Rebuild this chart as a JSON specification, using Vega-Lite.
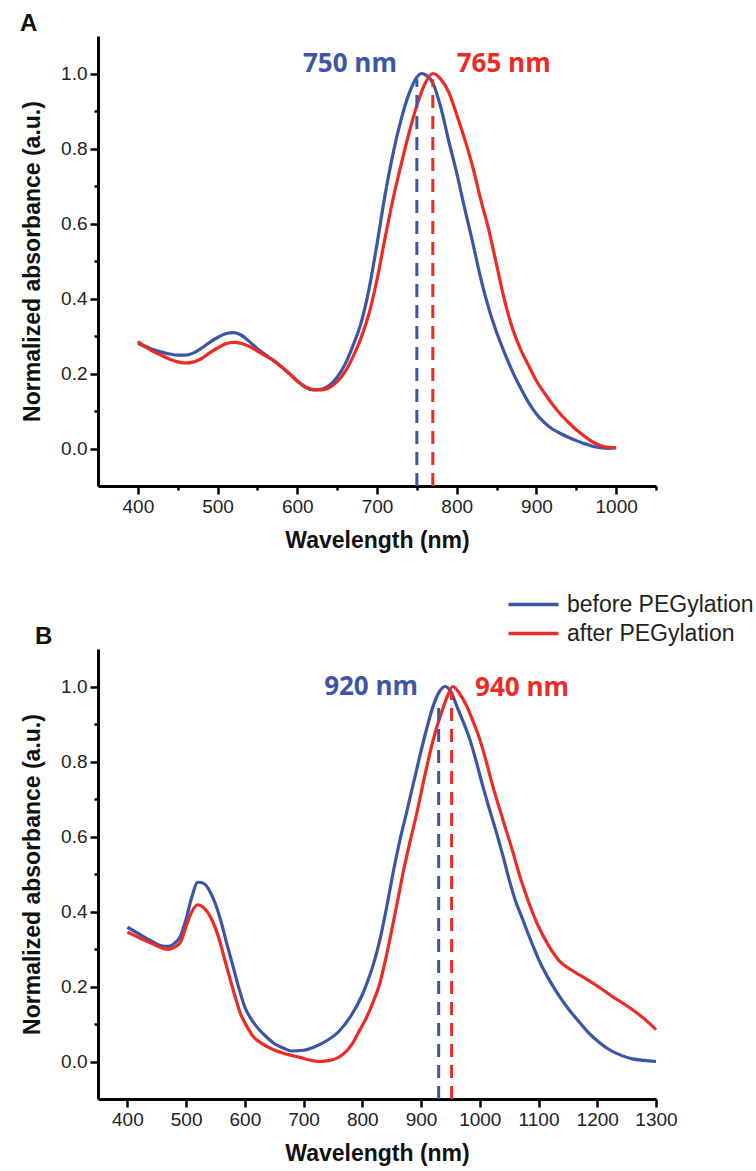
{
  "$schema": "https://vega.github.io/schema/vega-lite/v6.json",
  "background": "white",
  "padding": {"top": 12, "left": 20, "right": 2, "bottom": 5},
  "bounds": "flush",
  "spacing": 163,
  "config": {
    "view": {"stroke": null},
    "font": "Liberation Sans",
    "axis": {
      "grid": false,
      "domainColor": "#000000",
      "domainWidth": 3,
      "tickColor": "#000000",
      "tickWidth": 2.5,
      "labelFont": "Liberation Sans",
      "labelFontSize": 19,
      "labelColor": "#222222",
      "labelPadding": 3,
      "labelOverlap": false,
      "labelBound": false,
      "labelFlush": false,
      "titleFont": "Liberation Sans",
      "titleFontSize": 23,
      "titleFontWeight": "bold",
      "titleColor": "#111111"
    },
    "axisX": {"titlePadding": 13},
    "axisY": {"titlePadding": 16}
  },
  "resolve": {"scale": {"color": "independent"}},
  "datasets": {
    "spectra": [
      {"p":"A","s":"before PEGylation","wl":400,"a":0.28},{"p":"A","s":"before PEGylation","wl":410,"a":0.272},{"p":"A","s":"before PEGylation","wl":420,"a":0.263},{"p":"A","s":"before PEGylation","wl":430,"a":0.257},{"p":"A","s":"before PEGylation","wl":440,"a":0.252},{"p":"A","s":"before PEGylation","wl":450,"a":0.249},{"p":"A","s":"before PEGylation","wl":460,"a":0.249},{"p":"A","s":"before PEGylation","wl":470,"a":0.255},{"p":"A","s":"before PEGylation","wl":480,"a":0.268},{"p":"A","s":"before PEGylation","wl":490,"a":0.283},{"p":"A","s":"before PEGylation","wl":500,"a":0.296},{"p":"A","s":"before PEGylation","wl":510,"a":0.306},{"p":"A","s":"before PEGylation","wl":520,"a":0.309},{"p":"A","s":"before PEGylation","wl":530,"a":0.302},{"p":"A","s":"before PEGylation","wl":540,"a":0.285},{"p":"A","s":"before PEGylation","wl":550,"a":0.266},{"p":"A","s":"before PEGylation","wl":560,"a":0.25},{"p":"A","s":"before PEGylation","wl":570,"a":0.235},{"p":"A","s":"before PEGylation","wl":580,"a":0.218},{"p":"A","s":"before PEGylation","wl":590,"a":0.2},{"p":"A","s":"before PEGylation","wl":600,"a":0.18},{"p":"A","s":"before PEGylation","wl":610,"a":0.163},{"p":"A","s":"before PEGylation","wl":620,"a":0.156},{"p":"A","s":"before PEGylation","wl":630,"a":0.158},{"p":"A","s":"before PEGylation","wl":640,"a":0.168},{"p":"A","s":"before PEGylation","wl":650,"a":0.19},{"p":"A","s":"before PEGylation","wl":660,"a":0.225},{"p":"A","s":"before PEGylation","wl":670,"a":0.275},{"p":"A","s":"before PEGylation","wl":680,"a":0.335},{"p":"A","s":"before PEGylation","wl":690,"a":0.425},{"p":"A","s":"before PEGylation","wl":700,"a":0.545},{"p":"A","s":"before PEGylation","wl":710,"a":0.675},{"p":"A","s":"before PEGylation","wl":720,"a":0.785},{"p":"A","s":"before PEGylation","wl":730,"a":0.875},{"p":"A","s":"before PEGylation","wl":740,"a":0.945},{"p":"A","s":"before PEGylation","wl":750,"a":0.99},{"p":"A","s":"before PEGylation","wl":756,"a":1.0},{"p":"A","s":"before PEGylation","wl":762,"a":0.995},{"p":"A","s":"before PEGylation","wl":770,"a":0.975},{"p":"A","s":"before PEGylation","wl":780,"a":0.91},{"p":"A","s":"before PEGylation","wl":790,"a":0.82},{"p":"A","s":"before PEGylation","wl":800,"a":0.735},{"p":"A","s":"before PEGylation","wl":810,"a":0.64},{"p":"A","s":"before PEGylation","wl":820,"a":0.55},{"p":"A","s":"before PEGylation","wl":830,"a":0.455},{"p":"A","s":"before PEGylation","wl":840,"a":0.375},{"p":"A","s":"before PEGylation","wl":850,"a":0.31},{"p":"A","s":"before PEGylation","wl":860,"a":0.255},{"p":"A","s":"before PEGylation","wl":870,"a":0.205},{"p":"A","s":"before PEGylation","wl":880,"a":0.162},{"p":"A","s":"before PEGylation","wl":890,"a":0.123},{"p":"A","s":"before PEGylation","wl":900,"a":0.092},{"p":"A","s":"before PEGylation","wl":910,"a":0.069},{"p":"A","s":"before PEGylation","wl":920,"a":0.052},{"p":"A","s":"before PEGylation","wl":930,"a":0.04},{"p":"A","s":"before PEGylation","wl":940,"a":0.03},{"p":"A","s":"before PEGylation","wl":950,"a":0.021},{"p":"A","s":"before PEGylation","wl":960,"a":0.013},{"p":"A","s":"before PEGylation","wl":970,"a":0.006},{"p":"A","s":"before PEGylation","wl":980,"a":0.002},{"p":"A","s":"before PEGylation","wl":990,"a":0.0},{"p":"A","s":"before PEGylation","wl":1000,"a":0.002},
      {"p":"A","s":"after PEGylation","wl":400,"a":0.285},{"p":"A","s":"after PEGylation","wl":410,"a":0.27},{"p":"A","s":"after PEGylation","wl":420,"a":0.258},{"p":"A","s":"after PEGylation","wl":430,"a":0.248},{"p":"A","s":"after PEGylation","wl":440,"a":0.238},{"p":"A","s":"after PEGylation","wl":450,"a":0.231},{"p":"A","s":"after PEGylation","wl":460,"a":0.228},{"p":"A","s":"after PEGylation","wl":470,"a":0.231},{"p":"A","s":"after PEGylation","wl":480,"a":0.24},{"p":"A","s":"after PEGylation","wl":490,"a":0.255},{"p":"A","s":"after PEGylation","wl":500,"a":0.268},{"p":"A","s":"after PEGylation","wl":510,"a":0.279},{"p":"A","s":"after PEGylation","wl":520,"a":0.283},{"p":"A","s":"after PEGylation","wl":530,"a":0.28},{"p":"A","s":"after PEGylation","wl":540,"a":0.272},{"p":"A","s":"after PEGylation","wl":550,"a":0.26},{"p":"A","s":"after PEGylation","wl":560,"a":0.247},{"p":"A","s":"after PEGylation","wl":570,"a":0.235},{"p":"A","s":"after PEGylation","wl":580,"a":0.218},{"p":"A","s":"after PEGylation","wl":590,"a":0.2},{"p":"A","s":"after PEGylation","wl":600,"a":0.18},{"p":"A","s":"after PEGylation","wl":610,"a":0.165},{"p":"A","s":"after PEGylation","wl":620,"a":0.157},{"p":"A","s":"after PEGylation","wl":630,"a":0.156},{"p":"A","s":"after PEGylation","wl":640,"a":0.162},{"p":"A","s":"after PEGylation","wl":650,"a":0.178},{"p":"A","s":"after PEGylation","wl":660,"a":0.205},{"p":"A","s":"after PEGylation","wl":670,"a":0.245},{"p":"A","s":"after PEGylation","wl":680,"a":0.295},{"p":"A","s":"after PEGylation","wl":690,"a":0.36},{"p":"A","s":"after PEGylation","wl":700,"a":0.45},{"p":"A","s":"after PEGylation","wl":710,"a":0.56},{"p":"A","s":"after PEGylation","wl":720,"a":0.664},{"p":"A","s":"after PEGylation","wl":730,"a":0.755},{"p":"A","s":"after PEGylation","wl":740,"a":0.84},{"p":"A","s":"after PEGylation","wl":750,"a":0.915},{"p":"A","s":"after PEGylation","wl":760,"a":0.972},{"p":"A","s":"after PEGylation","wl":770,"a":1.0},{"p":"A","s":"after PEGylation","wl":780,"a":0.985},{"p":"A","s":"after PEGylation","wl":790,"a":0.95},{"p":"A","s":"after PEGylation","wl":800,"a":0.89},{"p":"A","s":"after PEGylation","wl":810,"a":0.825},{"p":"A","s":"after PEGylation","wl":820,"a":0.752},{"p":"A","s":"after PEGylation","wl":830,"a":0.665},{"p":"A","s":"after PEGylation","wl":840,"a":0.585},{"p":"A","s":"after PEGylation","wl":850,"a":0.49},{"p":"A","s":"after PEGylation","wl":860,"a":0.395},{"p":"A","s":"after PEGylation","wl":870,"a":0.32},{"p":"A","s":"after PEGylation","wl":880,"a":0.265},{"p":"A","s":"after PEGylation","wl":890,"a":0.222},{"p":"A","s":"after PEGylation","wl":900,"a":0.18},{"p":"A","s":"after PEGylation","wl":910,"a":0.148},{"p":"A","s":"after PEGylation","wl":920,"a":0.118},{"p":"A","s":"after PEGylation","wl":930,"a":0.092},{"p":"A","s":"after PEGylation","wl":940,"a":0.07},{"p":"A","s":"after PEGylation","wl":950,"a":0.05},{"p":"A","s":"after PEGylation","wl":960,"a":0.033},{"p":"A","s":"after PEGylation","wl":970,"a":0.018},{"p":"A","s":"after PEGylation","wl":980,"a":0.008},{"p":"A","s":"after PEGylation","wl":990,"a":0.003},{"p":"A","s":"after PEGylation","wl":1000,"a":0.002},
      {"p":"B","s":"before PEGylation","wl":400,"a":0.358},{"p":"B","s":"before PEGylation","wl":420,"a":0.34},{"p":"B","s":"before PEGylation","wl":440,"a":0.322},{"p":"B","s":"before PEGylation","wl":460,"a":0.308},{"p":"B","s":"before PEGylation","wl":470,"a":0.307},{"p":"B","s":"before PEGylation","wl":480,"a":0.315},{"p":"B","s":"before PEGylation","wl":490,"a":0.333},{"p":"B","s":"before PEGylation","wl":500,"a":0.38},{"p":"B","s":"before PEGylation","wl":510,"a":0.44},{"p":"B","s":"before PEGylation","wl":520,"a":0.478},{"p":"B","s":"before PEGylation","wl":530,"a":0.475},{"p":"B","s":"before PEGylation","wl":540,"a":0.455},{"p":"B","s":"before PEGylation","wl":550,"a":0.42},{"p":"B","s":"before PEGylation","wl":560,"a":0.37},{"p":"B","s":"before PEGylation","wl":570,"a":0.31},{"p":"B","s":"before PEGylation","wl":580,"a":0.253},{"p":"B","s":"before PEGylation","wl":590,"a":0.195},{"p":"B","s":"before PEGylation","wl":600,"a":0.145},{"p":"B","s":"before PEGylation","wl":610,"a":0.115},{"p":"B","s":"before PEGylation","wl":620,"a":0.093},{"p":"B","s":"before PEGylation","wl":635,"a":0.068},{"p":"B","s":"before PEGylation","wl":650,"a":0.048},{"p":"B","s":"before PEGylation","wl":665,"a":0.036},{"p":"B","s":"before PEGylation","wl":680,"a":0.028},{"p":"B","s":"before PEGylation","wl":700,"a":0.03},{"p":"B","s":"before PEGylation","wl":720,"a":0.04},{"p":"B","s":"before PEGylation","wl":740,"a":0.056},{"p":"B","s":"before PEGylation","wl":760,"a":0.08},{"p":"B","s":"before PEGylation","wl":780,"a":0.12},{"p":"B","s":"before PEGylation","wl":800,"a":0.178},{"p":"B","s":"before PEGylation","wl":810,"a":0.218},{"p":"B","s":"before PEGylation","wl":820,"a":0.265},{"p":"B","s":"before PEGylation","wl":830,"a":0.325},{"p":"B","s":"before PEGylation","wl":841,"a":0.408},{"p":"B","s":"before PEGylation","wl":852,"a":0.5},{"p":"B","s":"before PEGylation","wl":864,"a":0.59},{"p":"B","s":"before PEGylation","wl":876,"a":0.668},{"p":"B","s":"before PEGylation","wl":887,"a":0.742},{"p":"B","s":"before PEGylation","wl":898,"a":0.815},{"p":"B","s":"before PEGylation","wl":910,"a":0.89},{"p":"B","s":"before PEGylation","wl":920,"a":0.945},{"p":"B","s":"before PEGylation","wl":930,"a":0.983},{"p":"B","s":"before PEGylation","wl":941,"a":1.0},{"p":"B","s":"before PEGylation","wl":951,"a":0.985},{"p":"B","s":"before PEGylation","wl":961,"a":0.947},{"p":"B","s":"before PEGylation","wl":972,"a":0.905},{"p":"B","s":"before PEGylation","wl":983,"a":0.859},{"p":"B","s":"before PEGylation","wl":994,"a":0.8},{"p":"B","s":"before PEGylation","wl":1005,"a":0.735},{"p":"B","s":"before PEGylation","wl":1017,"a":0.67},{"p":"B","s":"before PEGylation","wl":1029,"a":0.607},{"p":"B","s":"before PEGylation","wl":1040,"a":0.545},{"p":"B","s":"before PEGylation","wl":1050,"a":0.485},{"p":"B","s":"before PEGylation","wl":1060,"a":0.432},{"p":"B","s":"before PEGylation","wl":1073,"a":0.379},{"p":"B","s":"before PEGylation","wl":1085,"a":0.33},{"p":"B","s":"before PEGylation","wl":1102,"a":0.266},{"p":"B","s":"before PEGylation","wl":1120,"a":0.213},{"p":"B","s":"before PEGylation","wl":1136,"a":0.173},{"p":"B","s":"before PEGylation","wl":1150,"a":0.142},{"p":"B","s":"before PEGylation","wl":1170,"a":0.104},{"p":"B","s":"before PEGylation","wl":1185,"a":0.077},{"p":"B","s":"before PEGylation","wl":1204,"a":0.05},{"p":"B","s":"before PEGylation","wl":1220,"a":0.032},{"p":"B","s":"before PEGylation","wl":1243,"a":0.015},{"p":"B","s":"before PEGylation","wl":1260,"a":0.007},{"p":"B","s":"before PEGylation","wl":1280,"a":0.003},{"p":"B","s":"before PEGylation","wl":1300,"a":0.0},
      {"p":"B","s":"after PEGylation","wl":400,"a":0.345},{"p":"B","s":"after PEGylation","wl":420,"a":0.33},{"p":"B","s":"after PEGylation","wl":440,"a":0.316},{"p":"B","s":"after PEGylation","wl":460,"a":0.302},{"p":"B","s":"after PEGylation","wl":470,"a":0.299},{"p":"B","s":"after PEGylation","wl":480,"a":0.305},{"p":"B","s":"after PEGylation","wl":490,"a":0.317},{"p":"B","s":"after PEGylation","wl":500,"a":0.36},{"p":"B","s":"after PEGylation","wl":510,"a":0.4},{"p":"B","s":"after PEGylation","wl":520,"a":0.418},{"p":"B","s":"after PEGylation","wl":530,"a":0.41},{"p":"B","s":"after PEGylation","wl":541,"a":0.387},{"p":"B","s":"after PEGylation","wl":550,"a":0.355},{"p":"B","s":"after PEGylation","wl":558,"a":0.317},{"p":"B","s":"after PEGylation","wl":566,"a":0.27},{"p":"B","s":"after PEGylation","wl":575,"a":0.219},{"p":"B","s":"after PEGylation","wl":584,"a":0.17},{"p":"B","s":"after PEGylation","wl":592,"a":0.13},{"p":"B","s":"after PEGylation","wl":603,"a":0.095},{"p":"B","s":"after PEGylation","wl":614,"a":0.067},{"p":"B","s":"after PEGylation","wl":630,"a":0.047},{"p":"B","s":"after PEGylation","wl":648,"a":0.032},{"p":"B","s":"after PEGylation","wl":670,"a":0.02},{"p":"B","s":"after PEGylation","wl":694,"a":0.011},{"p":"B","s":"after PEGylation","wl":710,"a":0.004},{"p":"B","s":"after PEGylation","wl":728,"a":0.0},{"p":"B","s":"after PEGylation","wl":745,"a":0.003},{"p":"B","s":"after PEGylation","wl":767,"a":0.019},{"p":"B","s":"after PEGylation","wl":782,"a":0.045},{"p":"B","s":"after PEGylation","wl":796,"a":0.085},{"p":"B","s":"after PEGylation","wl":808,"a":0.12},{"p":"B","s":"after PEGylation","wl":818,"a":0.157},{"p":"B","s":"after PEGylation","wl":830,"a":0.21},{"p":"B","s":"after PEGylation","wl":840,"a":0.275},{"p":"B","s":"after PEGylation","wl":852,"a":0.365},{"p":"B","s":"after PEGylation","wl":860,"a":0.428},{"p":"B","s":"after PEGylation","wl":869,"a":0.5},{"p":"B","s":"after PEGylation","wl":881,"a":0.585},{"p":"B","s":"after PEGylation","wl":893,"a":0.664},{"p":"B","s":"after PEGylation","wl":904,"a":0.745},{"p":"B","s":"after PEGylation","wl":915,"a":0.822},{"p":"B","s":"after PEGylation","wl":925,"a":0.882},{"p":"B","s":"after PEGylation","wl":935,"a":0.931},{"p":"B","s":"after PEGylation","wl":945,"a":0.975},{"p":"B","s":"after PEGylation","wl":954,"a":1.0},{"p":"B","s":"after PEGylation","wl":966,"a":0.98},{"p":"B","s":"after PEGylation","wl":978,"a":0.947},{"p":"B","s":"after PEGylation","wl":989,"a":0.905},{"p":"B","s":"after PEGylation","wl":1000,"a":0.859},{"p":"B","s":"after PEGylation","wl":1011,"a":0.8},{"p":"B","s":"after PEGylation","wl":1022,"a":0.735},{"p":"B","s":"after PEGylation","wl":1034,"a":0.672},{"p":"B","s":"after PEGylation","wl":1046,"a":0.611},{"p":"B","s":"after PEGylation","wl":1057,"a":0.555},{"p":"B","s":"after PEGylation","wl":1068,"a":0.495},{"p":"B","s":"after PEGylation","wl":1082,"a":0.43},{"p":"B","s":"after PEGylation","wl":1097,"a":0.37},{"p":"B","s":"after PEGylation","wl":1115,"a":0.315},{"p":"B","s":"after PEGylation","wl":1136,"a":0.267},{"p":"B","s":"after PEGylation","wl":1160,"a":0.24},{"p":"B","s":"after PEGylation","wl":1182,"a":0.219},{"p":"B","s":"after PEGylation","wl":1205,"a":0.196},{"p":"B","s":"after PEGylation","wl":1226,"a":0.173},{"p":"B","s":"after PEGylation","wl":1247,"a":0.152},{"p":"B","s":"after PEGylation","wl":1267,"a":0.13},{"p":"B","s":"after PEGylation","wl":1285,"a":0.107},{"p":"B","s":"after PEGylation","wl":1300,"a":0.085}
    ],
    "peaks": [
      {"p":"A","s":"before PEGylation","wl":750,"lo":-0.1,"hi":0.985},
      {"p":"A","s":"after PEGylation","wl":770,"lo":-0.1,"hi":0.985},
      {"p":"B","s":"before PEGylation","wl":930,"lo":-0.1,"hi":0.95},
      {"p":"B","s":"after PEGylation","wl":952,"lo":-0.1,"hi":0.985}
    ],
    "labels": [
      {"p":"A","s":"before PEGylation","wl":725,"a":1.025,"t":"750 nm"},
      {"p":"A","s":"after PEGylation","wl":800,"a":1.025,"t":"765 nm"},
      {"p":"B","s":"before PEGylation","wl":895,"a":1.0,"t":"920 nm"},
      {"p":"B","s":"after PEGylation","wl":992,"a":0.995,"t":"940 nm"}
    ]
  },
  "vconcat": [
    {
      "width": 558,
      "height": 450,
      "title": {"text": "A", "anchor": "start", "frame": "group", "dx": -78, "offset": 0, "fontSize": 24, "fontWeight": "bold", "font": "Liberation Sans", "color": "#111111"},
      "layer": [
        {
          "data": {"name": "spectra"},
          "transform": [{"filter": "datum.p === 'A'"}],
          "mark": {"type": "line", "strokeWidth": 3.2, "interpolate": "monotone"},
          "encoding": {
            "x": {"field": "wl", "type": "quantitative", "scale": {"domain": [350, 1050], "nice": false, "zero": false},
              "axis": {"title": "Wavelength (nm)", "values": [400,450,500,550,600,650,700,750,800,850,900,950,1000,1050], "format": "d",
                "labelExpr": "datum.value % 100 === 0 ? datum.label : ''",
                "tickSize": {"condition": {"test": "datum.value % 100 !== 0", "value": 4}, "value": 8}}},
            "y": {"field": "a", "type": "quantitative", "scale": {"domain": [-0.1, 1.1], "nice": false, "zero": false},
              "axis": {"title": "Normalized absorbance (a.u.)", "values": [0,0.1,0.2,0.3,0.4,0.5,0.6,0.7,0.8,0.9,1.0], "format": ".1f",
                "labelExpr": "round(datum.value * 10) % 2 === 0 ? datum.label : ''",
                "tickSize": {"condition": {"test": "round(datum.value * 10) % 2 === 1", "value": 4}, "value": 8}}},
            "color": {"field": "s", "type": "nominal",
              "scale": {"domain": ["before PEGylation", "after PEGylation"], "range": ["#3c55a5", "#ee2a24"]},
              "legend": {"orient": "none", "legendX": 404, "legendY": 557, "title": null, "padding": 0,
                "symbolType": "M-1,0H9", "symbolSize": 100, "symbolStrokeWidth": 3.5,
                "labelFont": "Liberation Sans", "labelFontSize": 23, "labelColor": "#222222", "labelOffset": 42, "labelLimit": 0, "rowPadding": 5}}
          }
        },
        {
          "data": {"name": "peaks"},
          "transform": [{"filter": "datum.p === 'A'"}],
          "mark": {"type": "rule", "strokeWidth": 3, "strokeDash": [13, 8]},
          "encoding": {
            "x": {"field": "wl", "type": "quantitative"},
            "y": {"field": "lo", "type": "quantitative"},
            "y2": {"field": "hi"},
            "color": {"field": "s", "type": "nominal", "legend": null}
          }
        },
        {
          "data": {"name": "labels"},
          "transform": [{"filter": "datum.p === 'A' && datum.s === 'before PEGylation'"}],
          "mark": {"type": "text", "align": "right", "baseline": "middle", "font": "Open Sans", "fontWeight": "bold", "fontSize": 26},
          "encoding": {
            "x": {"field": "wl", "type": "quantitative"},
            "y": {"field": "a", "type": "quantitative"},
            "text": {"field": "t"},
            "color": {"field": "s", "type": "nominal", "legend": null}
          }
        },
        {
          "data": {"name": "labels"},
          "transform": [{"filter": "datum.p === 'A' && datum.s === 'after PEGylation'"}],
          "mark": {"type": "text", "align": "left", "baseline": "middle", "font": "Open Sans", "fontWeight": "bold", "fontSize": 26},
          "encoding": {
            "x": {"field": "wl", "type": "quantitative"},
            "y": {"field": "a", "type": "quantitative"},
            "text": {"field": "t"},
            "color": {"field": "s", "type": "nominal", "legend": null}
          }
        }
      ]
    },
    {
      "width": 558,
      "height": 450,
      "title": {"text": "B", "anchor": "start", "frame": "group", "dx": -63, "offset": 0, "fontSize": 24, "fontWeight": "bold", "font": "Liberation Sans", "color": "#111111"},
      "layer": [
        {
          "data": {"name": "spectra"},
          "transform": [{"filter": "datum.p === 'B'"}],
          "mark": {"type": "line", "strokeWidth": 3.2, "interpolate": "monotone"},
          "encoding": {
            "x": {"field": "wl", "type": "quantitative", "scale": {"domain": [350, 1300], "nice": false, "zero": false},
              "axis": {"title": "Wavelength (nm)", "values": [400,450,500,550,600,650,700,750,800,850,900,950,1000,1050,1100,1150,1200,1250,1300], "format": "d",
                "labelExpr": "datum.value % 100 === 0 ? datum.label : ''",
                "tickSize": {"condition": {"test": "datum.value % 100 !== 0", "value": 4}, "value": 8}}},
            "y": {"field": "a", "type": "quantitative", "scale": {"domain": [-0.1, 1.1], "nice": false, "zero": false},
              "axis": {"title": "Normalized absorbance (a.u.)", "values": [0,0.1,0.2,0.3,0.4,0.5,0.6,0.7,0.8,0.9,1.0], "format": ".1f",
                "labelExpr": "round(datum.value * 10) % 2 === 0 ? datum.label : ''",
                "tickSize": {"condition": {"test": "round(datum.value * 10) % 2 === 1", "value": 4}, "value": 8}}},
            "color": {"field": "s", "type": "nominal",
              "scale": {"domain": ["before PEGylation", "after PEGylation"], "range": ["#3c55a5", "#ee2a24"]},
              "legend": null}
          }
        },
        {
          "data": {"name": "peaks"},
          "transform": [{"filter": "datum.p === 'B'"}],
          "mark": {"type": "rule", "strokeWidth": 3, "strokeDash": [13, 8]},
          "encoding": {
            "x": {"field": "wl", "type": "quantitative"},
            "y": {"field": "lo", "type": "quantitative"},
            "y2": {"field": "hi"},
            "color": {"field": "s", "type": "nominal", "legend": null}
          }
        },
        {
          "data": {"name": "labels"},
          "transform": [{"filter": "datum.p === 'B' && datum.s === 'before PEGylation'"}],
          "mark": {"type": "text", "align": "right", "baseline": "middle", "font": "Open Sans", "fontWeight": "bold", "fontSize": 26},
          "encoding": {
            "x": {"field": "wl", "type": "quantitative"},
            "y": {"field": "a", "type": "quantitative"},
            "text": {"field": "t"},
            "color": {"field": "s", "type": "nominal", "legend": null}
          }
        },
        {
          "data": {"name": "labels"},
          "transform": [{"filter": "datum.p === 'B' && datum.s === 'after PEGylation'"}],
          "mark": {"type": "text", "align": "left", "baseline": "middle", "font": "Open Sans", "fontWeight": "bold", "fontSize": 26},
          "encoding": {
            "x": {"field": "wl", "type": "quantitative"},
            "y": {"field": "a", "type": "quantitative"},
            "text": {"field": "t"},
            "color": {"field": "s", "type": "nominal", "legend": null}
          }
        }
      ]
    }
  ]
}
